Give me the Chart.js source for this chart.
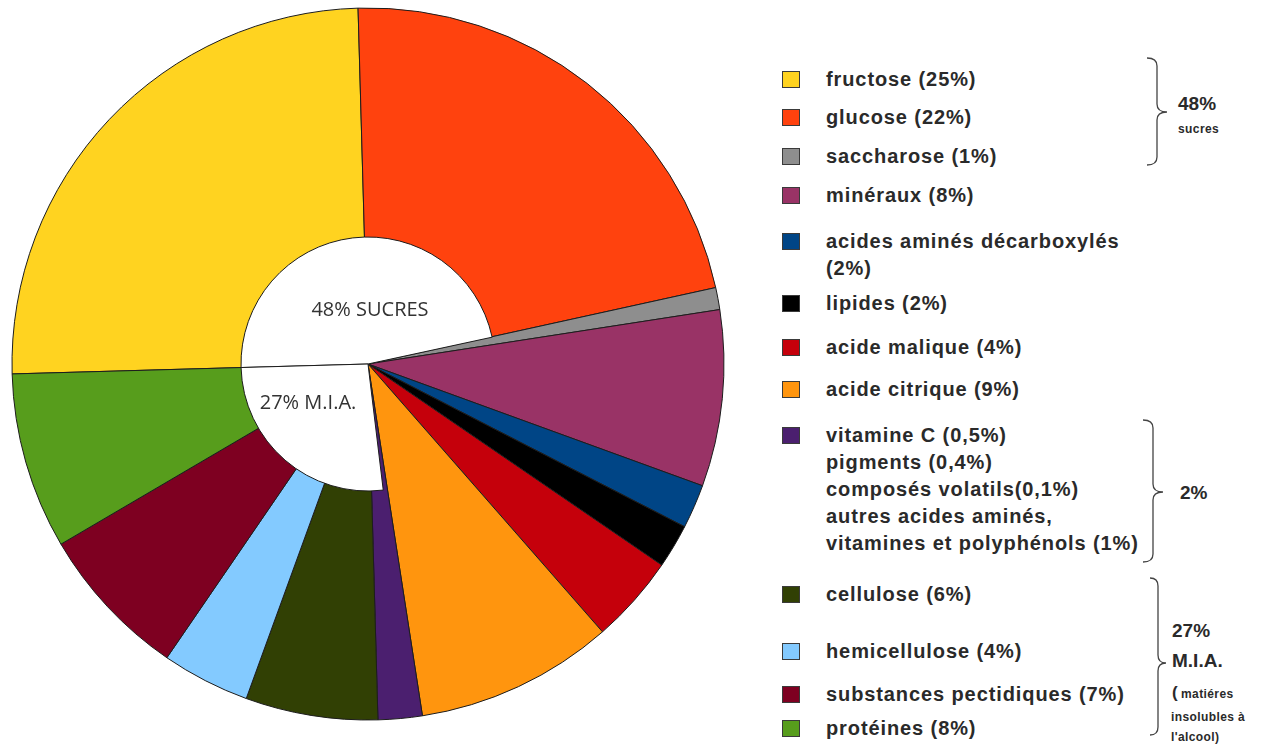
<!DOCTYPE html>
<html lang="fr">
<head>
<meta charset="utf-8">
<title>Composition du moût de raisin</title>
<script src="https://cdn.jsdelivr.net/npm/chart.js@4.4.1/dist/chart.umd.min.js"></script>
<style>
  html, body { margin: 0; padding: 0; background: #fff; }
  #page { position: relative; width: 1284px; height: 744px; overflow: hidden;
          font-family: 'Liberation Sans', Arial, sans-serif; color: #2a2a2a; }
  #pie, #hole { position: absolute; left: 0; top: 0; }
  #braces { position: absolute; left: 0; top: 0; }
  .swatch { position: absolute; left: 782px; width: 18px; height: 17px;
            border: 1px solid #3a3a3a; box-sizing: border-box; }
  .label { position: absolute; left: 826px; font-weight: bold; font-size: 20px;
           letter-spacing: 0.9px; line-height: 27px; white-space: nowrap; }
  .note { position: absolute; font-weight: bold; white-space: nowrap; line-height: 1; }
</style>
</head>
<body>
<div id="page">
  <canvas id="pie" width="736" height="728"></canvas>
  <canvas id="hole" width="736" height="728"></canvas>
  <div id="legend"></div>
  <svg id="braces" width="1284" height="744"></svg>
</div>

<script>
/* ── DONNÉES ── */
const categories = [
    'fructose', 'glucose', 'saccharose', 'minéraux',
    'acides aminés décarboxylés', 'lipides', 'acide malique', 'acide citrique',
    'vitamine C, pigments, composés volatils, autres',
    'cellulose', 'hemicellulose', 'substances pectidiques', 'protéines'
];

const shares = [25, 22, 1, 8, 2, 2, 4, 9, 2, 6, 4, 7, 8];

const sliceColors = [
    '#ffd320', '#ff420e', '#8e8e8e', '#993366',
    '#004586', '#000000', '#c5000b', '#ff950e',
    '#4b1f6f', '#314004', '#83caff', '#7e0021', '#579d1c'
];

const legendText = [
    ['fructose (25%)'],
    ['glucose (22%)'],
    ['saccharose (1%)'],
    ['minéraux (8%)'],
    ['acides aminés décarboxylés', '(2%)'],
    ['lipides (2%)'],
    ['acide malique (4%)'],
    ['acide citrique (9%)'],
    ['vitamine C (0,5%)', 'pigments (0,4%)', 'composés volatils(0,1%)',
     'autres acides aminés,', 'vitamines et polyphénols (1%)'],
    ['cellulose (6%)'],
    ['hemicellulose (4%)'],
    ['substances pectidiques (7%)'],
    ['protéines (8%)']
];

// centre blanc : sucres / M.I.A., les autres parts vont jusqu'au centre
const groupLabels = [
    '48% SUCRES', 'minéraux', 'acides aminés décarboxylés', 'lipides',
    'acide malique', 'acide citrique', 'vitamine C, pigments…', '27% M.I.A.'
];
const groupShares = [48, 8, 2, 2, 4, 9, 2, 27];

/* ── MISE EN PAGE ── */
const legendRowY = [79, 117, 156, 195, 241, 303, 347, 389, 435, 594, 651, 694, 728];
const ROTATION = -91.6;
const EDGE = '#1c1c1c';

/* ── CAMEMBERT ── */
const pieChart = new Chart(document.getElementById('pie'), {
    type: 'pie',
    data: {
        labels: categories,
        datasets: [{
            data: shares,
            backgroundColor: sliceColors,
            borderColor: EDGE,
            borderWidth: 1
        }]
    },
    options: {
        responsive: false,
        animation: false,
        radius: 356,
        rotation: ROTATION,
        layout: { padding: 0 },
        plugins: {
            legend: { display: false },
            tooltip: { enabled: false }
        }
    }
});

/* ── CENTRE BLANC ── */
const holeText = {
    id: 'holeText',
    afterDraw(chart) {
        const arc = chart.getDatasetMeta(0).data[0];
        const ctx = chart.ctx;
        ctx.save();
        ctx.font = '20px "Open Sans"';
        ctx.fillStyle = '#333';
        ctx.textAlign = 'center';
        ctx.textBaseline = 'middle';
        ctx.fillText(groupLabels[0], arc.x + 2, arc.y - 54);
        ctx.fillText(groupLabels[groupLabels.length - 1], arc.x - 60, arc.y + 39);
        ctx.restore();
    }
};

const isGroup = (i) => i === 0 || i === groupLabels.length - 1;

const holeChart = new Chart(document.getElementById('hole'), {
    type: 'pie',
    data: {
        labels: groupLabels,
        datasets: [{
            data: groupShares,
            backgroundColor: groupLabels.map((_, i) => isGroup(i) ? '#ffffff' : 'rgba(0,0,0,0)'),
            borderColor: groupLabels.map((_, i) => isGroup(i) ? EDGE : 'rgba(0,0,0,0)'),
            borderWidth: groupLabels.map((_, i) => isGroup(i) ? 1 : 0)
        }]
    },
    options: {
        responsive: false,
        animation: false,
        radius: 127,
        rotation: ROTATION,
        layout: { padding: 0 },
        plugins: {
            legend: { display: false },
            tooltip: { enabled: false }
        }
    },
    plugins: [holeText]
});

/* ── LÉGENDE ── */
const legend = document.getElementById('legend');

legendText.forEach((lines, i) => {
    const y = legendRowY[i];

    const sw = document.createElement('div');
    sw.className = 'swatch';
    sw.style.top = (y - 8) + 'px';
    sw.style.background = sliceColors[i];
    legend.appendChild(sw);

    const lb = document.createElement('div');
    lb.className = 'label';
    lb.style.top = (y - 13) + 'px';
    lb.innerHTML = lines.join('<br>');
    legend.appendChild(lb);
});

/* ── ACCOLADES ── */
function brace(x0, yTop, yBot, yTip, w) {
    const xm = x0 + w / 2, r = 8;
    return `M${x0},${yTop} Q${xm},${yTop} ${xm},${yTop + r} L${xm},${yTip - r} ` +
        `Q${xm},${yTip} ${x0 + w},${yTip} Q${xm},${yTip} ${xm},${yTip + r} ` +
        `L${xm},${yBot - r} Q${xm},${yBot} ${x0},${yBot}`;
}

const braces = [
    [1147, 58, 165, 112, 20],
    [1143, 420, 562, 492, 20],
    [1150, 578, 735, 663, 16]
];

document.getElementById('braces').innerHTML = braces.map(b =>
    `<path d="${brace(...b)}" fill="none" stroke="#444" stroke-width="1.3"/>`
).join('');

const notes = [
    ['48%', 1178, 94, 19],
    ['sucres', 1178, 123, 12],
    ['2%', 1180, 483, 19],
    ['27%', 1172, 621, 19],
    ['M.I.A.', 1172, 651, 19],
    ['(', 1172, 684, 17],
    ['matiéres', 1181, 688, 12],
    ['insolubles à', 1171, 711, 12],
    ["l'alcool)", 1171, 731, 12]
];

notes.forEach(([txt, x, y, size]) => {
    const el = document.createElement('div');
    el.className = 'note';
    el.textContent = txt;
    el.style.left = x + 'px';
    el.style.top = y + 'px';
    el.style.fontSize = size + 'px';
    if (size < 14) el.style.letterSpacing = '0.4px';
    legend.appendChild(el);
});
</script>
</body>
</html>
